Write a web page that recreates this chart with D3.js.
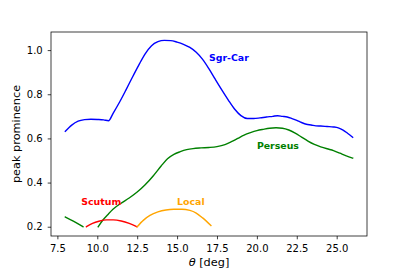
<!DOCTYPE html>
<html><head><meta charset="utf-8">
<script src="https://cdn.jsdelivr.net/npm/d3@7"></script>
<style>
body{margin:0;background:#fff;}
text{font-family:"DejaVu Sans",sans-serif;}
</style></head>
<body><svg id="c" width="407" height="271"></svg>
<script>
// ---- data ----
const sgrCarTheta = [8.0,8.4,8.8,9.2,9.6,10.0,10.4,10.7,11.0,11.4,11.8,12.2,12.6,13.0,13.4,13.8,14.2,14.6,15.0,15.4,15.8,16.2,16.6,17.0,17.4,17.8,18.2,18.6,19.0,19.4,19.8,20.2,20.6,21.0,21.3,21.6,21.9,22.2,22.5,22.8,23.1,23.4,23.7,24.0,24.4,24.8,25.1,25.4,25.7,26.0];
const sgrCarValue = [0.632,0.660,0.678,0.685,0.687,0.686,0.684,0.680,0.715,0.765,0.820,0.877,0.932,0.983,1.020,1.038,1.044,1.043,1.036,1.026,1.012,0.990,0.958,0.915,0.867,0.820,0.775,0.733,0.703,0.690,0.690,0.693,0.697,0.700,0.703,0.700,0.697,0.690,0.682,0.672,0.664,0.661,0.657,0.656,0.654,0.652,0.648,0.638,0.622,0.605];

const perseusTheta = [8.0,8.5,9.1,9.6,10.06,10.33,10.7,11.0,11.5,12.0,12.5,13.0,13.5,14.0,14.4,14.8,15.2,15.6,16.0,16.5,17.0,17.5,18.0,18.4,18.8,19.2,19.6,20.0,20.4,20.8,21.2,21.6,22.0,22.4,22.8,23.2,23.6,24.0,24.4,24.8,25.2,25.6,26.0];
const perseusValue = [0.244,0.225,0.200,null,0.200,0.228,0.258,0.280,0.307,0.330,0.357,0.390,0.430,0.475,0.508,0.528,0.540,0.549,0.554,0.557,0.559,0.563,0.572,0.585,0.600,0.615,0.626,0.635,0.641,0.646,0.648,0.646,0.638,0.624,0.606,0.588,0.573,0.562,0.553,0.545,0.533,0.521,0.511];

const scutumTheta = [9.32,9.7,10.1,10.6,11.0,11.5,12.0,12.47];
const scutumValue = [0.200,0.215,0.225,0.231,0.231,0.226,0.215,0.200];

const localTheta = [12.5,12.9,13.3,13.8,14.3,14.8,15.3,15.8,16.2,16.6,17.12];
const localValue = [0.200,0.230,0.251,0.267,0.276,0.279,0.279,0.274,0.262,0.240,0.205];

const xTicks = [7.5,10.0,12.5,15.0,17.5,20.0,22.5,25.0];
const yTicks = [0.2,0.4,0.6,0.8,1.0];

const seriesLabels = ["Sgr-Car","Perseus","Scutum","Local"];
const labelTheta = [17.0,20.0,9.0,15.0];
const labelValue = [0.95,0.553,0.30,0.30];
const seriesColors = ["blue","green","red","orange"];

// ---- chart ----
const svg = d3.select("#c");
const L=51, R=367, T=32, B=236;
const x = d3.scaleLinear().domain([7.1,26.9]).range([L,R]);
const y = d3.scaleLinear().domain([0.158,1.082]).range([B,T]);
const fs = 9.4, tfs = 10, lfs = 11.3;

const line = d3.line().defined(d=>d[1]!==null).x(d=>x(d[0])).y(d=>y(d[1])).curve(d3.curveMonotoneX);
const series = [
  [sgrCarTheta,sgrCarValue,"blue"],
  [perseusTheta,perseusValue,"green"],
  [scutumTheta,scutumValue,"red"],
  [localTheta,localValue,"orange"]
];
const g = svg.append("g");
series.forEach(([t,v,c])=>{
  g.append("path").datum(t.map((d,i)=>[d,v[i]]))
   .attr("d",line).attr("fill","none").attr("stroke",c).attr("stroke-width",1.4)
   .attr("stroke-linecap","square");
});

seriesLabels.forEach((s,i)=>{
  svg.append("text").attr("x",x(labelTheta[i])).attr("y",y(labelValue[i]))
    .attr("fill",seriesColors[i]).attr("font-weight","bold").attr("font-size",fs).text(s);
});

// axes
const xa = svg.append("g").attr("transform",`translate(0,${B})`)
  .call(d3.axisBottom(x).tickValues(xTicks).tickFormat(d3.format(".1f")).tickSizeOuter(0).tickSize(3.3).tickPadding(6));
const ya = svg.append("g").attr("transform",`translate(${L},0)`)
  .call(d3.axisLeft(y).tickValues(yTicks).tickFormat(d3.format(".1f")).tickSizeOuter(0).tickSize(3.3).tickPadding(5));
[xa,ya].forEach(a=>{
  a.select(".domain").remove();
  a.selectAll("text").attr("font-size",tfs).attr("font-family","DejaVu Sans").attr("fill","#000");
  a.selectAll("line").attr("stroke","#000").attr("stroke-width",0.75);
});
svg.append("rect").attr("x",L).attr("y",T).attr("width",R-L).attr("height",B-T)
  .attr("fill","none").attr("stroke","#000").attr("stroke-width",0.75);

// labels
const xl = svg.append("text").attr("x",(L+R)/2).attr("y",265.5).attr("text-anchor","middle").attr("font-size",lfs);
xl.append("tspan").attr("font-style","italic").text("θ");
xl.append("tspan").text(" [deg]");
svg.append("text").attr("transform",`translate(20,${(T+B)/2}) rotate(-90)`)
  .attr("text-anchor","middle").attr("font-size",lfs).text("peak prominence");
</script></body></html>
